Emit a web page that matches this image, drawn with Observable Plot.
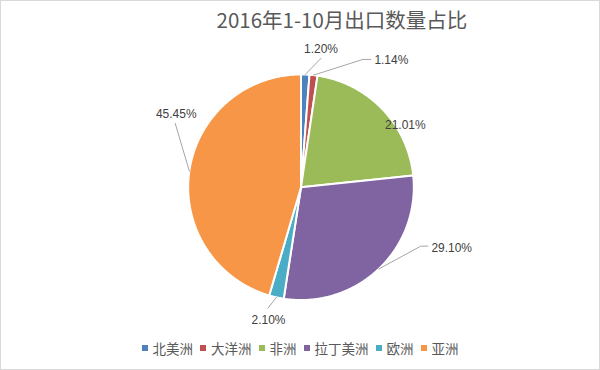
<!DOCTYPE html>
<html>
<head>
<meta charset="utf-8">
<script src="https://cdn.jsdelivr.net/npm/d3@7"></script>
<script src="https://cdn.jsdelivr.net/npm/@observablehq/plot@0.6"></script>
<style>
  html, body { margin: 0; padding: 0; background: #fff; }
  #chart { position: relative; width: 600px; height: 370px; box-sizing: border-box; border: 1px solid #d9d9d9; background: #fff; overflow: hidden; }
  #title { position: absolute; left: 0; top: 4px; width: 600px; padding-left: 82px; box-sizing: border-box; text-align: center; font-family: "Noto Sans CJK SC", sans-serif; font-size: 20.5px; line-height: 28px; color: #595959; white-space: nowrap; }
  #plot { position: absolute; left: -1px; top: 35px; }
  #legend { position: absolute; left: 0; top: 337px; width: 598px; display: flex; justify-content: center; align-items: center; font-family: "Noto Sans CJK SC", sans-serif; font-size: 13.5px; line-height: 20px; color: #595959; }
  #legend .item { display: flex; align-items: center; margin: 0 3.5px; }
  #legend .sw { width: 6px; height: 6px; margin-right: 5px; }
</style>
</head>
<body>
<div id="chart">
  <div id="title"></div>
  <div id="plot"></div>
  <div id="legend"></div>
</div>
<script>
// ---- data ----
const titleText = "2016年1-10月出口数量占比";
const regions = ["北美洲", "大洋洲", "非洲", "拉丁美洲", "欧洲", "亚洲"];
const shares = [1.20, 1.14, 21.01, 29.10, 2.10, 45.45];
const colors = ["#4F81BD", "#C0504D", "#9BBB59", "#8064A2", "#4BACC6", "#F79646"];

// ---- label layout (in pie-radius units) ----
const labelX = [0.177, 0.801, 0.925, 1.336, -0.288, -1.106];
const labelY = [1.221, 1.124, 0.549, -0.540, -1.177, 0.646];
// leader elbows: list of points after the slice edge (empty = no leader)
const leaderPts = [
  [[0.177, 1.142]],
  [[0.549, 1.133], [0.619, 1.133]],
  [],
  [[1.062, -0.522], [1.124, -0.522]],
  [[-0.292, -1.071]],
  [[-1.115, 0.566]]
];

// ---- geometry ----
const total = d3.sum(shares);
let acc = 0;
const slices = shares.map((v, i) => {
  const a0 = acc / total * 2 * Math.PI;
  acc += v;
  const a1 = acc / total * 2 * Math.PI;
  return {name: regions[i], value: v, a0, a1, mid: (a0 + a1) / 2};
});

const slicePts = [];
for (const s of slices) {
  slicePts.push({name: s.name, x: 0, y: 0});
  const n = Math.max(2, Math.ceil((s.a1 - s.a0) / (Math.PI / 360)));
  for (let k = 0; k <= n; k++) {
    const a = s.a0 + (s.a1 - s.a0) * k / n;
    slicePts.push({name: s.name, x: Math.sin(a), y: Math.cos(a)});
  }
  slicePts.push({name: s.name, x: 0, y: 0});
}

const leaderData = [];
slices.forEach((s, i) => {
  if (!leaderPts[i].length) return;
  leaderData.push({name: s.name, x: Math.sin(s.mid), y: Math.cos(s.mid)});
  for (const p of leaderPts[i]) leaderData.push({name: s.name, x: p[0], y: p[1]});
});

const labels = slices.map((s, i) => ({name: s.name, x: labelX[i], y: labelY[i], text: s.value.toFixed(2) + "%"}));

const plot = Plot.plot({
  width: 600,
  height: 298,
  marginLeft: 188,
  marginRight: 186,
  marginTop: 38,
  marginBottom: 34,
  x: {domain: [-1, 1], axis: null},
  y: {domain: [-1, 1], axis: null},
  color: {domain: regions, range: colors},
  style: {background: "transparent", overflow: "visible"},
  marks: [
    Plot.line(slicePts, {x: "x", y: "y", z: "name", fill: "name", stroke: "#ffffff", strokeWidth: 2, strokeLinejoin: "round", curve: "linear"}),
    Plot.line(leaderData, {x: "x", y: "y", z: "name", stroke: "#a6a6a6", strokeWidth: 1, curve: "linear"}),
    Plot.text(labels, {x: "x", y: "y", text: "text", fill: "#404040", fontSize: 12, fontFamily: "Liberation Sans, Arial, sans-serif"})
  ]
});
document.getElementById("plot").appendChild(plot);

document.getElementById("title").textContent = titleText;

const legend = document.getElementById("legend");
regions.forEach((r, i) => {
  const item = document.createElement("div");
  item.className = "item";
  const sw = document.createElement("div");
  sw.className = "sw";
  sw.style.background = colors[i];
  const t = document.createElement("span");
  t.textContent = r;
  item.appendChild(sw);
  item.appendChild(t);
  legend.appendChild(item);
});
</script>
</body>
</html>
